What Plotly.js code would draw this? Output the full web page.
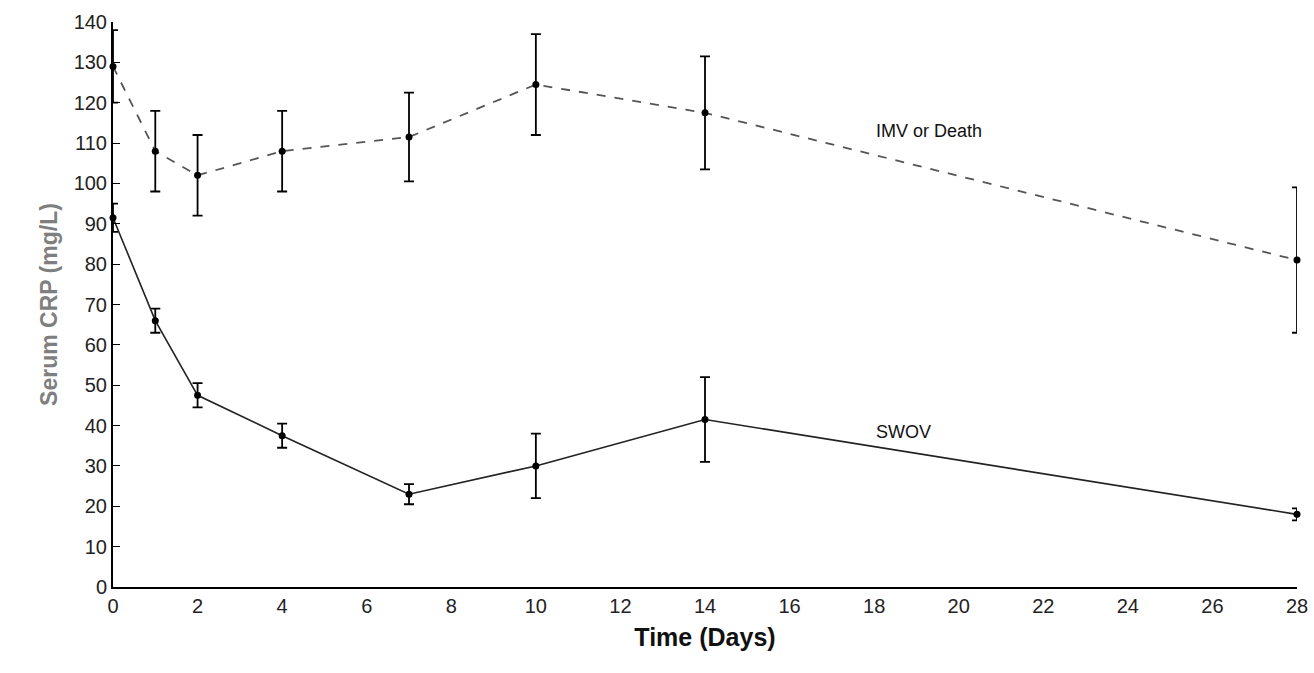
<!DOCTYPE html>
<html>
<head>
<meta charset="utf-8">
<script src="https://cdn.plot.ly/plotly-3.0.1.min.js"></script>
<style>body{margin:0;background:#fff}#chart{width:1314px;height:673px}</style>
</head>
<body>
<div id="chart"></div>
<script>
// CRP over time by outcome group
const days = [0, 1, 2, 4, 7, 10, 14, 28];
const imvMean = [129, 108, 102, 108, 111.5, 124.5, 117.5, 81];
const imvErr = [9, 10, 10, 10, 11, 12.5, 14, 18];
const swovMean = [91.5, 66, 47.5, 37.5, 23, 30, 41.5, 18];
const swovErr = [3.5, 3, 3, 3, 2.5, 8, 10.5, 1.5];
const xTicks = [0, 2, 4, 6, 8, 10, 12, 14, 16, 18, 20, 22, 24, 26, 28];

const errStyle = { type: "data", visible: true, color: "#000", thickness: 1.8, width: 5 };

const traces = [
  {
    x: days, y: imvMean, mode: "lines+markers", name: "IMV or Death", cliponaxis: false,
    line: { color: "#555", width: 1.8, dash: "dash" },
    marker: { color: "#000", size: 7 },
    error_y: Object.assign({ array: imvErr }, errStyle),
  },
  {
    x: days, y: swovMean, mode: "lines+markers", name: "SWOV", cliponaxis: false,
    line: { color: "#222", width: 1.6 },
    marker: { color: "#000", size: 7 },
    error_y: Object.assign({ array: swovErr }, errStyle),
  },
];

const layout = {
  width: 1314, height: 673,
  margin: { l: 113, r: 17, t: 22, b: 86 },
  showlegend: false,
  paper_bgcolor: "#fff", plot_bgcolor: "#fff",
  font: { family: "Liberation Sans, Arial", color: "#222" },
  xaxis: {
    range: [0, 28], tickvals: xTicks, showgrid: false, zeroline: false,
    showline: true, linecolor: "#000", linewidth: 2,
    tickfont: { size: 20 }, ticks: "",
    title: { text: "<b>Time (Days)</b>", font: { size: 25, color: "#111" }, standoff: 12 },
  },
  yaxis: {
    range: [0, 140], dtick: 10, showgrid: false, zeroline: false,
    showline: true, linecolor: "#000", linewidth: 2,
    ticks: "inside", ticklen: 7, tickcolor: "#000",
    tickfont: { size: 20 },
    title: { text: "<b>Serum CRP (mg/L)</b>", font: { size: 23, color: "#7f7f7f" }, standoff: 10 },
  },
  annotations: [
    { x: 19.3, y: 113, text: "IMV or Death", showarrow: false, font: { size: 18, color: "#111" } },
    { x: 18.7, y: 38.4, text: "SWOV", showarrow: false, font: { size: 18, color: "#111" } },
  ],
};

Plotly.newPlot("chart", traces, layout, { displayModeBar: false });
</script>
</body>
</html>
